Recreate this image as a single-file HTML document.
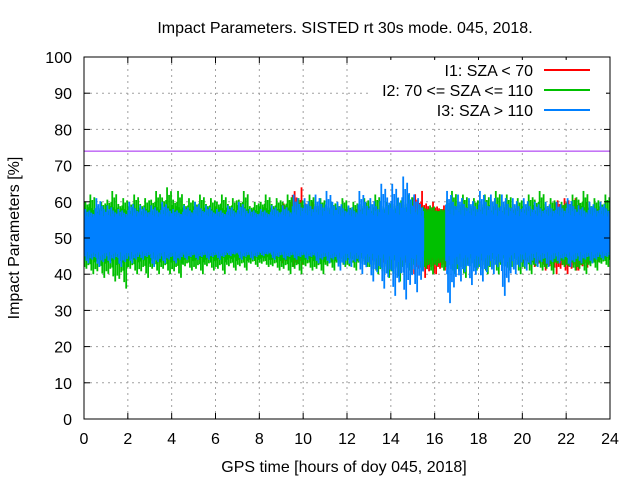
<!DOCTYPE html>
<html><head><meta charset="utf-8"><style>
body{margin:0;background:#fff}
svg text{font-family:"Liberation Sans",sans-serif;font-size:16px;fill:#000}
</style></head><body>
<svg id="c" width="640" height="480">
<rect width="640" height="480" fill="#fff"/>
<text x="345" y="33" text-anchor="middle">Impact Parameters. SISTED rt 30s mode. 045, 2018.</text>
<text x="344" y="472" text-anchor="middle">GPS time [hours of doy 045, 2018]</text>
<text transform="translate(19,238) rotate(-90)" text-anchor="middle">Impact Parameters [%]</text>
<g id="grid"></g><g id="marks"></g><g id="axes"></g>
</svg>
<script>
const xTicks=[0,2,4,6,8,10,12,14,16,18,20,22,24];
const yTicks=[0,10,20,30,40,50,60,70,80,90,100];
const bins=[0,0.5,1,1.5,2,2.5,3,3.5,4,4.5,5,5.5,6,6.5,7,7.5,8,8.5,9,9.5,10,10.5,11,11.5,12,12.5,13,13.5,14,14.5,15,15.5,16,16.5,17,17.5,18,18.5,19,19.5,20,20.5,21,21.5,22,22.5,23,23.5];
const refLine=74;
const redHi=[56,55,56,57,56,56,57,56,57,56,56,57,56,56,57,56,57,58,60,64,60,58,57,58,58,58,57,58,57,58,63,60,59,58,57,57,58,57,57,58,58,57,58,61,61,60,58,57];
const redLo=[45,44,44,45,44,44,45,44,44,45,44,45,45,45,44,44,45,44,43,42,44,44,44,44,44,44,43,42,43,42,40,39,40,43,44,44,43,44,44,44,43,42,41,40,40,41,43,44];
const greenHi=[62,60,63,61,62,61,63,64,63,61,62,61,62,61,63,60,62,61,62,61,62,61,60,61,60,61,62,60,61,62,59,59,58,63,62,61,62,63,62,61,62,63,61,60,62,63,61,62];
const greenLo=[40,39,38,36,40,39,40,40,39,41,40,41,40,41,41,42,42,41,40,40,41,40,41,42,41,42,40,39,38,40,41,40,41,40,39,41,40,40,41,40,40,41,40,42,41,40,41,42];
const blueHi=[58,61,59,58,60,59,59,60,58,59,60,59,58,59,60,58,58,59,59,62,61,62,63,60,59,63,61,65,65,67,62,null,null,63,62,61,63,62,62,61,61,60,60,60,61,59,60,60];
const blueLo=[43,42,43,42,43,44,42,43,43,44,44,44,44,45,44,44,45,44,44,44,44,43,43,41,42,40,38,36,34,33,35,null,null,32,38,37,38,40,34,40,41,42,42,43,42,43,43,44];
const X=v=>84+v*(610-84)/24, Y=v=>419-v*(419-57)/100;
const NS="http://www.w3.org/2000/svg";
function mk(p,t,a){const e=document.createElementNS(NS,t);for(const k in a)e.setAttribute(k,a[k]);p.appendChild(e);return e;}
const grid=document.getElementById('grid'),marks=document.getElementById('marks'),axes=document.getElementById('axes');
xTicks.forEach(t=>{const g=mk(grid,'line',{x1:X(t),x2:X(t),y1:57,y2:419,stroke:'#a0a0a0','stroke-dasharray':'2,4'});


const tx=mk(axes,'text',{x:X(t),y:444,'text-anchor':'middle'});tx.textContent=t;


mk(axes,'line',{x1:X(t),x2:X(t),y1:419,y2:413,stroke:'#000'});mk(axes,'line',{x1:X(t),x2:X(t),y1:57,y2:63,stroke:'#000'});});
yTicks.forEach(t=>{const g=mk(grid,'line',{x1:84,x2:610,y1:Y(t),y2:Y(t),stroke:'#a0a0a0','stroke-dasharray':'2,4'});


const tx=mk(axes,'text',{x:72,y:Y(t)+6,'text-anchor':'end'});tx.textContent=t;


mk(axes,'line',{x1:84,x2:90,y1:Y(t),y2:Y(t),stroke:'#000'});mk(axes,'line',{x1:604,x2:610,y1:Y(t),y2:Y(t),stroke:'#000'});});
const bw=0.5;
const pattern=[[0.04,0.5,0.2],[0.13,1,0.45],[0.22,0.25,0.8],[0.31,0.7,0.1],[0.4,0.15,1],[0.49,0.85,0.35],[0.58,0.35,0.6],[0.67,0.6,0.25],[0.76,0.1,0.7],[0.85,0.45,0.15],[0.94,0.3,0.5]];
function series(name,col,hi,lo,cLo,cHi,shift){
  bins.forEach((b,i)=>{
    if(hi[i]==null)return;
    const core=mk(marks,'rect',{x:X(b),y:Y(cHi),width:X(bw)-X(0)+0.5,height:Y(cLo)-Y(cHi),fill:col});
    
    
    pattern.forEach((p,j)=>{
      const q=pattern[(j+shift)%pattern.length];
      const top=cHi+(hi[i]-cHi)*q[1], bot=cLo-(cLo-lo[i])*q[2];
      const s=mk(marks,'line',{x1:X(b+p[0]*bw),x2:X(b+p[0]*bw),y1:Y(top),y2:Y(bot),stroke:col,'stroke-width':1.8});
      
      
    });
  });
}
series('i1','#ff0000',redHi,redLo,45,57,3);
series('i2','#00c000',greenHi,greenLo,45,57,6);
series('i3','#0080ff',blueHi,blueLo,46.5,55.5,0);
const rl=mk(marks,'line',{x1:84,x2:610,y1:Y(refLine),y2:Y(refLine),stroke:'#a020f0','stroke-width':1});


const fr=mk(axes,'rect',{x:84,y:57,width:526,height:362,fill:'none',stroke:'#000'});


const leg=[['I1: SZA < 70','#ff0000'],['I2: 70 <= SZA <= 110','#00c000'],['I3: SZA > 110','#0080ff']];
leg.forEach((l,i)=>{const y=70+i*20;
const bg=mk(axes,'rect',{x:372,y:y-10,width:234,height:20,fill:'#fff'});


const t=mk(axes,'text',{x:533,y:y+6,'text-anchor':'end'});t.textContent=l[0];


const s=mk(axes,'line',{x1:544,x2:590,y1:y,y2:y,stroke:l[1],'stroke-width':2});

});
</script>
</body></html>
